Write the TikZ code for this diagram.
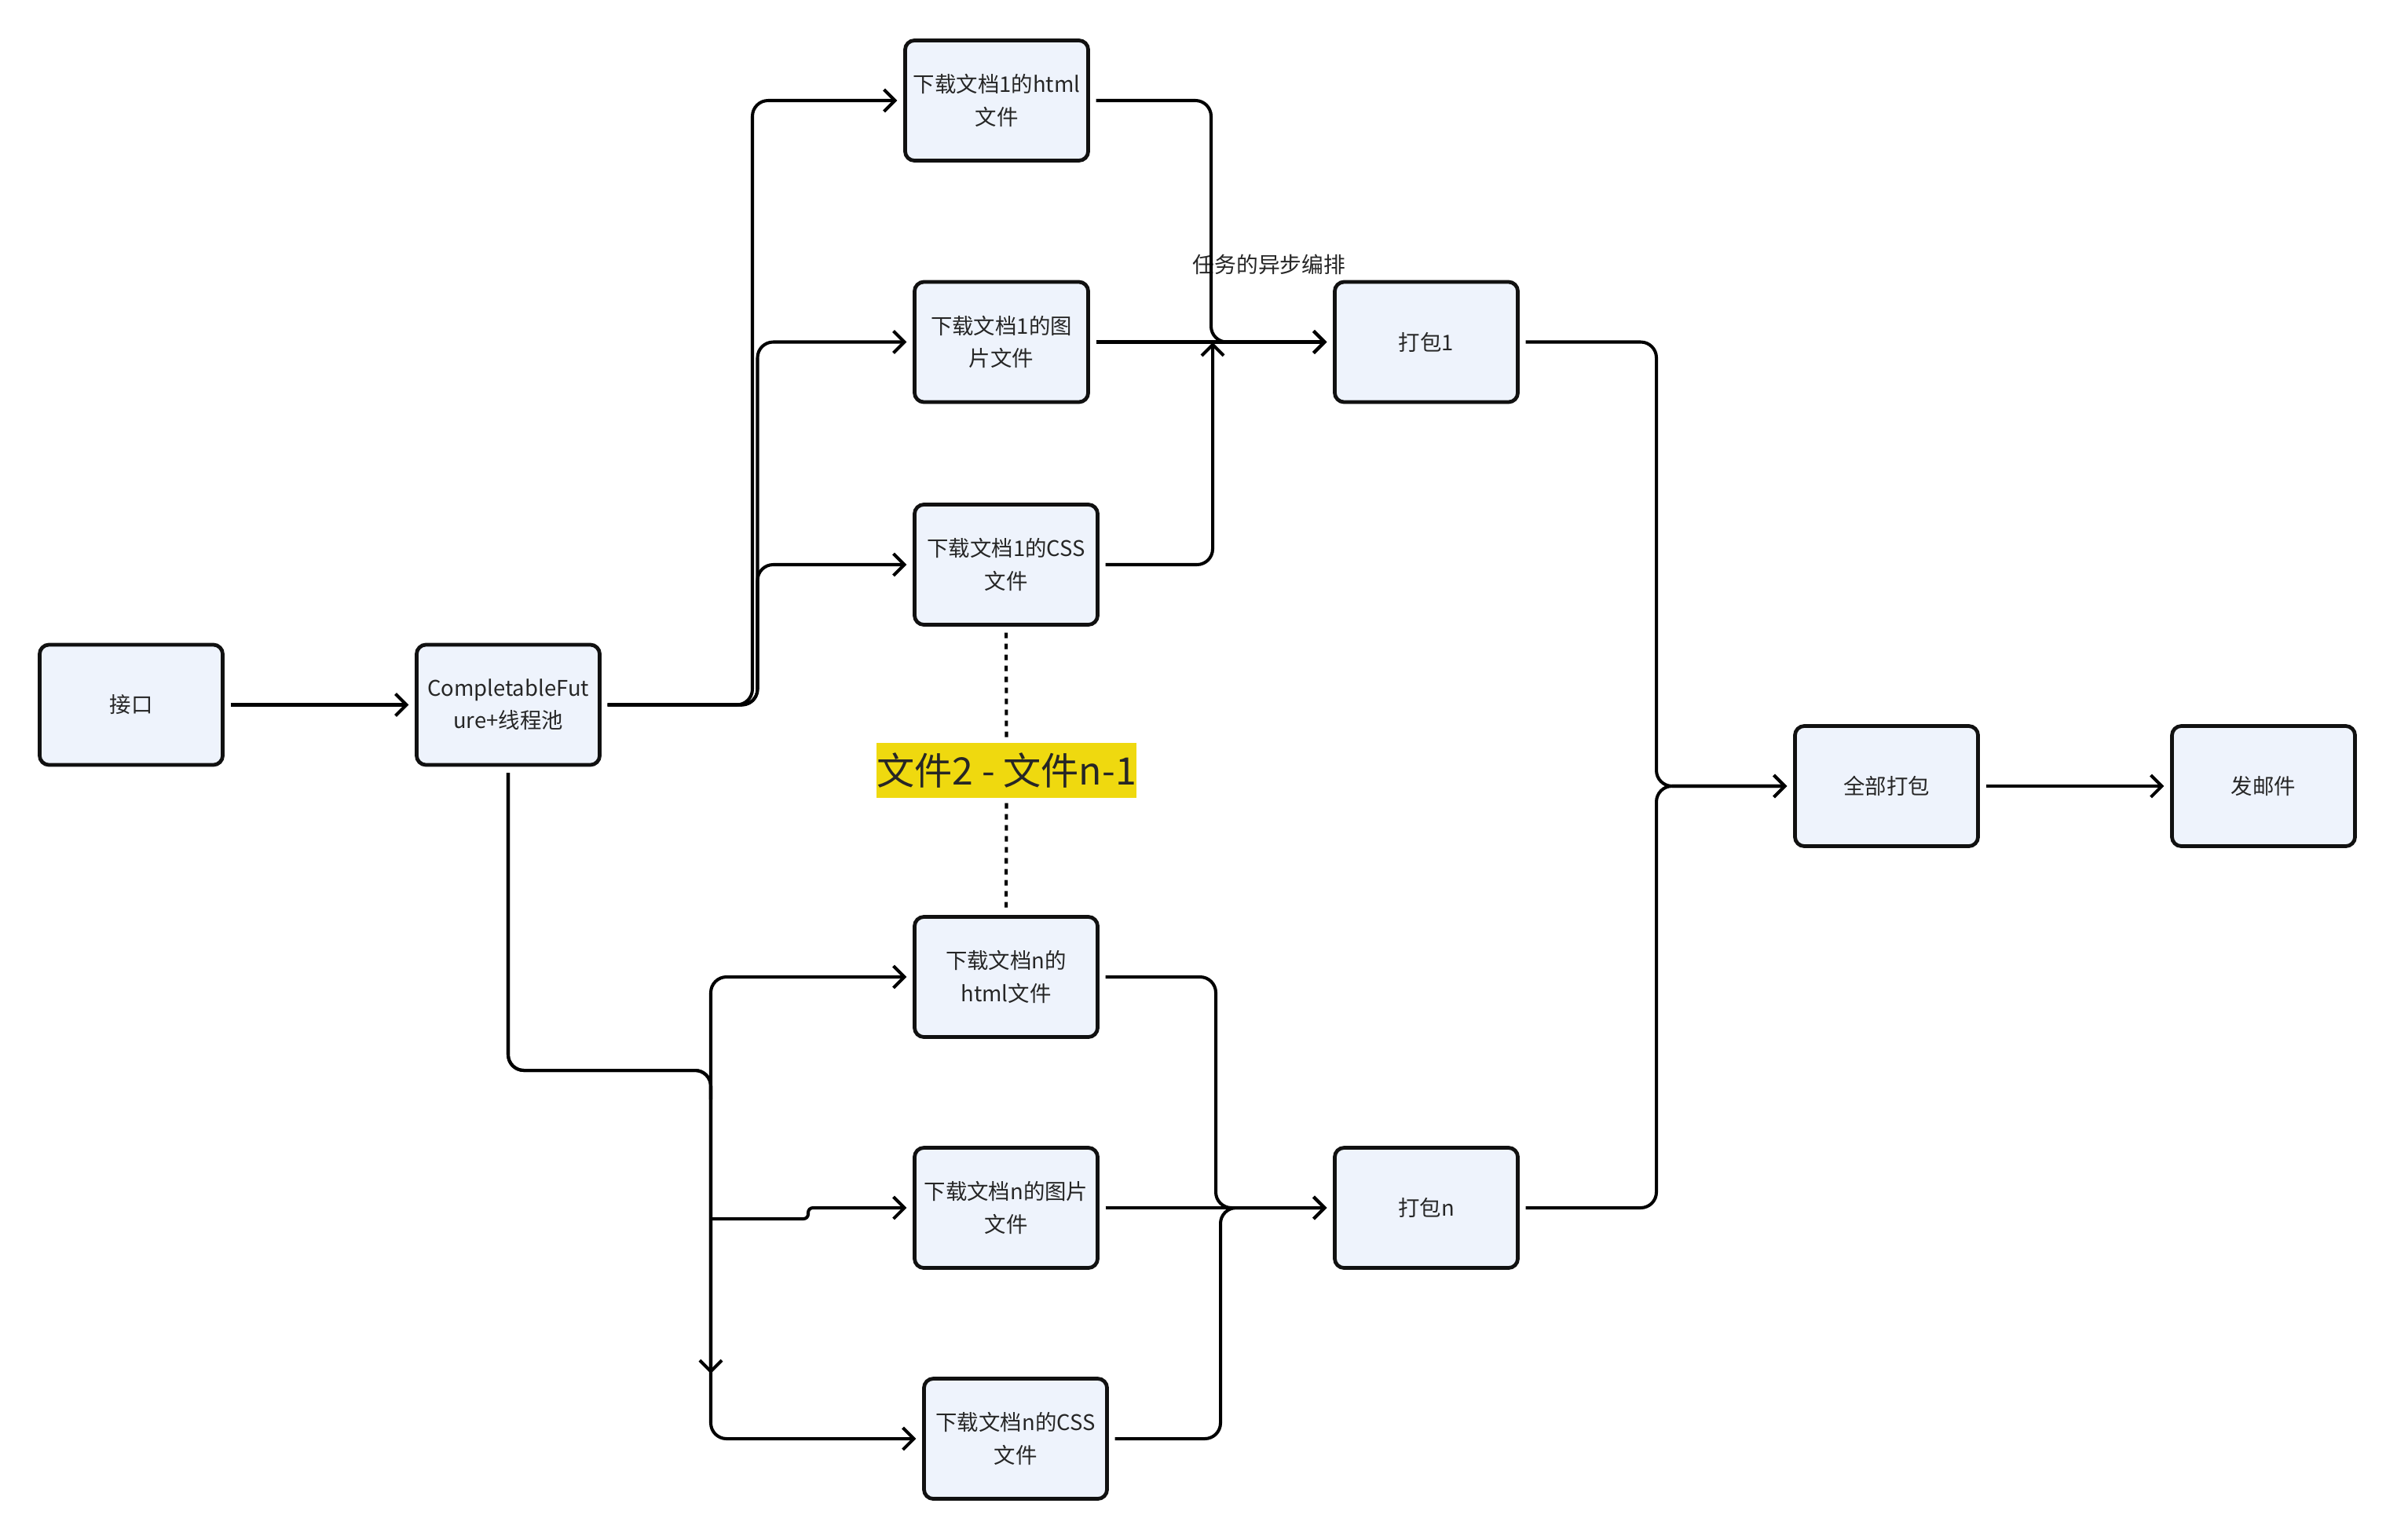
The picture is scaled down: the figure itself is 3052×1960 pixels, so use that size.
\documentclass[tikz,border=0pt]{standalone}
\usepackage{fontspec}
\setmainfont{Noto Sans CJK SC}
\usetikzlibrary{arrows.meta}
\definecolor{boxfill}{HTML}{EEF3FC}
\definecolor{boxline}{HTML}{111111}
\definecolor{txt}{HTML}{262626}
\definecolor{hl}{HTML}{EFD90F}
\tikzset{
  box/.style={draw=boxline, fill=boxfill, line width=1.35pt, rounded corners=0.12cm,
    minimum width=2.33cm, minimum height=1.53cm, align=center, inner sep=0pt,
    font=\fontsize{7.8}{11.7}\selectfont, text=txt, outer sep=0.1cm},
  narrowbox/.style={box, minimum width=2.21cm},
  conn/.style={line width=1.15pt, draw=black, rounded corners=0.2cm,
    -{Straight Barb[length=0.14cm,width=0.28cm]}},
  dotline/.style={line width=1.15pt, draw=black, dash pattern=on 0.07cm off 0.07cm},
  hlbox/.style={fill=hl, minimum width=3.29cm, minimum height=0.69cm, inner sep=0pt,
    font=\fontsize{13.7}{16}\selectfont, text=txt, outer sep=0.07cm},
  note/.style={font=\fontsize{7.9}{10}\selectfont, text=txt}
}
\begin{document}
\begin{tikzpicture}[x=0.01cm, y=-0.01cm]
\useasboundingbox (0,0) rectangle (3052,1960);
% nodes
\node[box] (jk) at (167,897.5) {接口};
\node[box] (cf) at (647,897.5) {CompletableFut\\ure+线程池};
\node[box] (h1) at (1269,128) {下载文档1的html\\文件};
\node[narrowbox] (i1) at (1275,435.5) {下载文档1的图\\片文件};
\node[box] (c1) at (1281,719) {下载文档1的CSS\\文件};
\node[hlbox] (yl) at (1281.5,981) {文件2 - 文件n-1};
\node[box] (hn) at (1281,1244) {下载文档n的\\html文件};
\node[box] (in) at (1281,1538) {下载文档n的图片\\文件};
\node[box] (cn) at (1293,1832) {下载文档n的CSS\\文件};
\node[box] (p1) at (1816,435.5) {打包1};
\node[box] (pn) at (1816,1538) {打包n};
\node[box] (all) at (2402,1001) {全部打包};
\node[box] (mail) at (2882,1001) {发邮件};
\node[note] (lbl) at (1616,337) {任务的异步编排};
% helper coordinates
\coordinate (up1) at (1544,436);
\coordinate (down1) at (905,1749);
\coordinate (bh) at (905,1400);
\coordinate (bi) at (905,1552);
% connectors
\draw[conn] (jk) -- (cf);
\draw[conn] (cf.east) -- (958,897.5) |- (h1.west);
\draw[conn] (cf.east) -- (964.5,897.5) |- (i1.west);
\draw[conn] (cf.east) -- (964.5,897.5) |- (c1.west);
\draw[conn] (h1.east) -| (1542,435.5) -- (p1.west);
\draw[conn] (i1.east) -- (p1.west);
\draw[conn] (c1.east) -| (up1);
\draw[dotline] (c1.south) -- (yl.north);
\draw[dotline] (yl.south) -- (hn.north);
\draw[conn] (cf.south) |- (905,1363) -- (down1);
\draw[conn] (cf.south) |- (905,1363) |- (cn.west);
\draw[conn] (bh) |- (hn.west);
\draw[conn, rounded corners=0.06cm] (bi) -- (1029,1552) -- (1029,1538) -- (in.west);
\draw[conn] (hn.east) -| (1548,1538) -- (pn.west);
\draw[conn] (in.east) -- (pn.west);
\draw[conn] (cn.east) -| (1554,1538) -- (pn.west);
\draw[conn] (p1.east) -| (2109,1001) -- (all.west);
\draw[conn] (pn.east) -| (2109,1001) -- (all.west);
\draw[conn] (all) -- (mail);
\end{tikzpicture}
\end{document}
